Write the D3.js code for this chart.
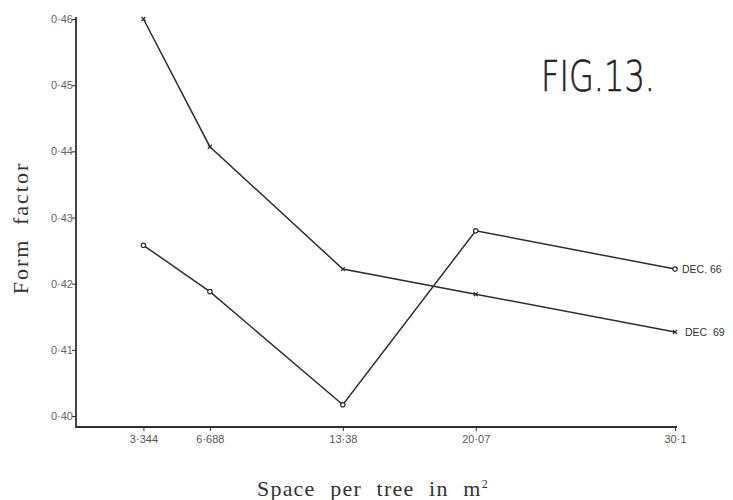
<!DOCTYPE html>
<html><head><meta charset="utf-8">
<script src="https://cdn.jsdelivr.net/npm/d3@7"></script>
<style>body{margin:0;background:#fff}svg{display:block}</style>
</head><body>
<svg id="c" width="733" height="500"></svg>
<script>
const spaceValues = [3.344, 6.688, 13.38, 20.07, 30.1];
const xTickLabels = ["3·344", "6·688", "13·38", "20·07", "30·1"];
const dec66 = [0.4258, 0.4188, 0.4017, 0.4280, 0.4222];
const dec69 = [0.4600, 0.4407, 0.4222, 0.4184, 0.4127];
const yTicks = [0.40, 0.41, 0.42, 0.43, 0.44, 0.45, 0.46];
const yTickLabels = ["0·40", "0·41", "0·42", "0·43", "0·44", "0·45", "0·46"];
const seriesNames = ["DEC. 66", "DEC  69"];

const svg = d3.select("#c");
const ink = "#2e2e2e";
const x = d3.scaleLinear().domain([0, 30.1]).range([77, 675]);
const y = d3.scaleLinear().domain([0.40, 0.46]).range([416, 19]);
const axisY = 427;
const axisX = 76;

// y axis
const yAxis = d3.axisLeft(y).tickValues(yTicks).tickSize(4)
  .tickFormat((d, i) => yTickLabels[i]);
const gy = svg.append("g").attr("transform", `translate(${axisX},0)`).call(yAxis);
gy.select(".domain").remove();
gy.selectAll(".tick line").attr("stroke", ink).attr("stroke-width", 1);
gy.selectAll(".tick text").attr("fill", "#666").attr("font-family", "Liberation Sans, Arial, sans-serif")
  .attr("font-size", 11).attr("x", -3);
svg.append("line").attr("x1", axisX).attr("x2", axisX).attr("y1", 17).attr("y2", axisY + 1)
  .attr("stroke", ink).attr("stroke-width", 1.8);

// x axis
const xAxis = d3.axisBottom(x).tickValues(spaceValues).tickSize(4)
  .tickFormat((d, i) => xTickLabels[i]);
const gx = svg.append("g").attr("transform", `translate(0,${axisY})`).call(xAxis);
gx.select(".domain").remove();
gx.selectAll(".tick line").attr("stroke", ink).attr("stroke-width", 1);
gx.selectAll(".tick text").attr("fill", "#555").attr("font-family", "Liberation Sans, Arial, sans-serif")
  .attr("font-size", 11).attr("y", 8);
svg.append("line").attr("x1", axisX).attr("x2", 677).attr("y1", axisY).attr("y2", axisY)
  .attr("stroke", ink).attr("stroke-width", 1.8);

// lines
const line = d3.line().x((d, i) => x(spaceValues[i])).y(d => y(d));
[dec66, dec69].forEach(s => {
  svg.append("path").datum(s).attr("d", line).attr("fill", "none")
    .attr("stroke", ink).attr("stroke-width", 1.5);
});
// markers
svg.selectAll("circle.m66").data(dec66).enter().append("circle")
  .attr("cx", (d, i) => x(spaceValues[i])).attr("cy", d => y(d)).attr("r", 2.2)
  .attr("fill", "#fff").attr("stroke", ink).attr("stroke-width", 1.2);
svg.selectAll("path.m69").data(dec69).enter().append("path")
  .attr("d", (d, i) => {
    const cx = x(spaceValues[i]), cy = y(d), r = 2;
    return `M${cx - r},${cy - r}L${cx + r},${cy + r}M${cx - r},${cy + r}L${cx + r},${cy - r}`;
  }).attr("stroke", ink).attr("stroke-width", 1.2);

// series labels
[dec66, dec69].forEach((s, k) => {
  svg.append("text").attr("x", x(spaceValues[4]) + 7 + k * 3).attr("y", y(s[4]) + 4)
    .attr("font-family", "Liberation Sans, Arial, sans-serif").attr("font-size", 10.5)
    .attr("fill", "#333").attr("xml:space", "preserve").text(seriesNames[k]);
});

// title
svg.append("text").attr("x", 541).attr("y", 91).attr("font-family", "DejaVu Sans ExtraLight, DejaVu Sans, sans-serif")
  .attr("font-weight", 200)
  .attr("font-size", 42).attr("fill", "#222").attr("stroke", "#222").attr("stroke-width", 0.6)
  .attr("textLength", 114)
  .attr("lengthAdjust", "spacingAndGlyphs").text("FIG.13.");

// axis titles
svg.append("text").attr("transform", "translate(28,228) rotate(-90)").attr("text-anchor", "middle")
  .attr("font-family", "Liberation Serif, Times New Roman, serif").attr("font-size", 22)
  .attr("fill", "#333").attr("letter-spacing", 2).attr("word-spacing", 6).text("Form factor");
const xt = svg.append("text").attr("x", 257).attr("y", 496)
  .attr("font-family", "Liberation Serif, Times New Roman, serif").attr("font-size", 22)
  .attr("fill", "#333").attr("word-spacing", 8).attr("letter-spacing", 1.2);
xt.append("tspan").text("Space per tree in m");
xt.append("tspan").attr("font-size", 12).attr("dy", -8).text("2");
</script>
</body></html>
